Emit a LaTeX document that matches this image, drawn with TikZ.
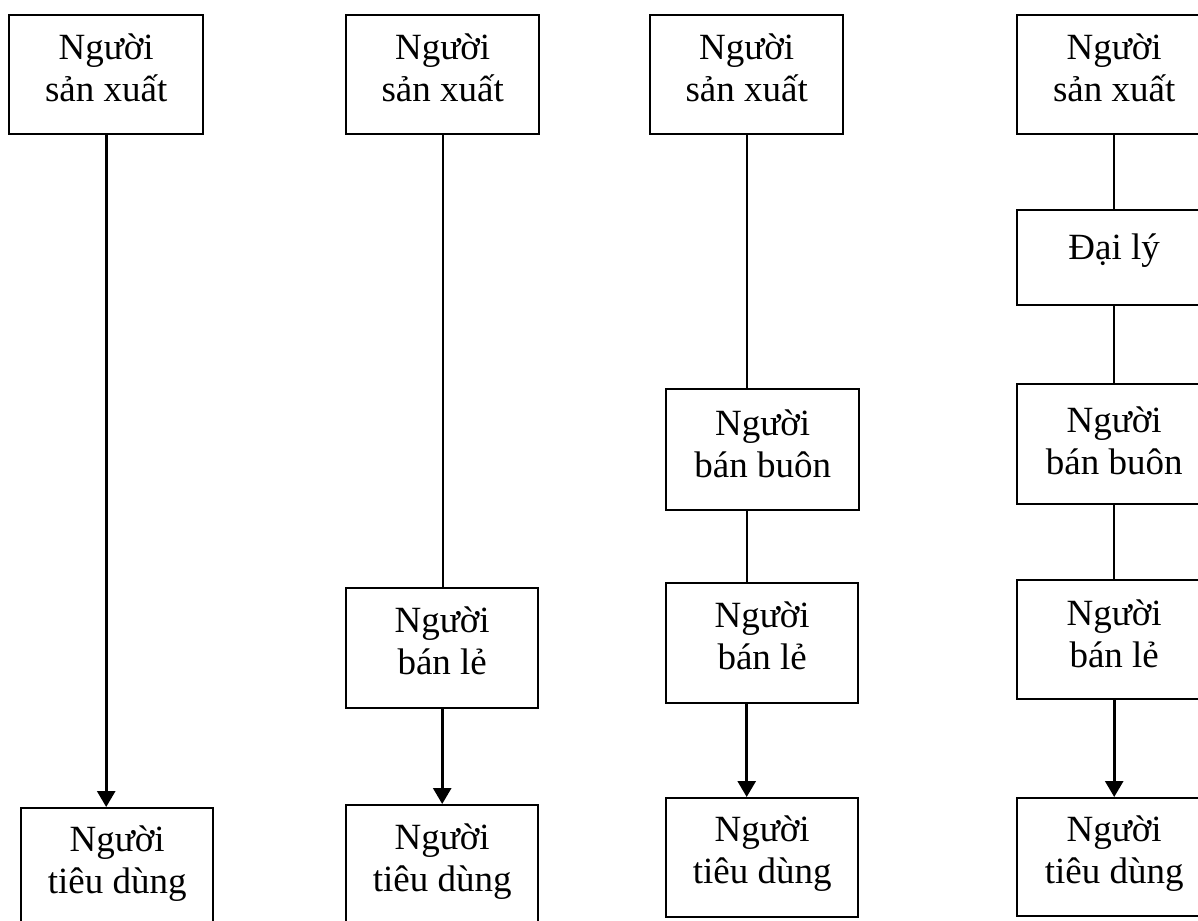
\documentclass[tikz,border=0pt]{standalone}
\usepackage{fontspec}
\setmainfont{Liberation Serif}
\usetikzlibrary{arrows.meta,calc}
\begin{document}
\begin{tikzpicture}[x=1pt,y=-1pt,
  box/.style={draw,line width=2.4pt,inner sep=0pt,anchor=north west},
  lbl/.style={anchor=base,inner sep=0pt,font=\fontsize{37}{42}\selectfont},
  plainln/.style={line width=1.8pt},
  arrln/.style={line width=2.8pt,-{Triangle[width=18pt,length=16pt]}}]
\useasboundingbox (0,0) rectangle (1198,920);
\clip (0,0) rectangle (1198,920);
\newcommand{\twoline}[2]{\begin{tabular}[t]{@{}c@{}}#1\\#2\end{tabular}}
% column 1
\node[box,minimum width=194pt,minimum height=119pt] (P1) at (8,14) {};
\node[box,minimum width=192pt,minimum height=118pt] (C1) at (20,807) {};
% column 2
\node[box,minimum width=193pt,minimum height=119pt] (P2) at (345,14) {};
\node[box,minimum width=192pt,minimum height=120pt] (R2) at (345,587) {};
\node[box,minimum width=192pt,minimum height=121pt] (C2) at (345,804) {};
% column 3
\node[box,minimum width=193pt,minimum height=119pt] (P3) at (649,14) {};
\node[box,minimum width=193pt,minimum height=121pt] (W3) at (665,388) {};
\node[box,minimum width=192pt,minimum height=120pt] (R3) at (665,582) {};
\node[box,minimum width=192pt,minimum height=119pt] (C3) at (665,797) {};
% column 4
\node[box,minimum width=194pt,minimum height=119pt] (P4) at (1016,14) {};
\node[box,minimum width=194pt,minimum height=95pt] (D4) at (1016,209) {};
\node[box,minimum width=194pt,minimum height=120pt] (W4) at (1016,383) {};
\node[box,minimum width=194pt,minimum height=119pt] (R4) at (1016,579) {};
\node[box,minimum width=194pt,minimum height=118pt] (C4) at (1016,797) {};
% labels
\node[lbl] (tP1) at ($(P1.north)+(0,46)$) {\twoline{Người}{sản xuất}};
\node[lbl] (tC1) at ($(C1.north)+(0,44)$) {\twoline{Người}{tiêu dùng}};
\node[lbl] (tP2) at ($(P2.north)+(0,46)$) {\twoline{Người}{sản xuất}};
\node[lbl] (tR2) at ($(R2.north)+(0,45)$) {\twoline{Người}{bán lẻ}};
\node[lbl] (tC2) at ($(C2.north)+(0,45)$) {\twoline{Người}{tiêu dùng}};
\node[lbl] (tP3) at ($(P3.north)+(0,46)$) {\twoline{Người}{sản xuất}};
\node[lbl] (tW3) at ($(W3.north)+(0,47)$) {\twoline{Người}{bán buôn}};
\node[lbl] (tR3) at ($(R3.north)+(0,45)$) {\twoline{Người}{bán lẻ}};
\node[lbl] (tC3) at ($(C3.north)+(0,44)$) {\twoline{Người}{tiêu dùng}};
\node[lbl] (tP4) at ($(P4.north)+(0,46)$) {\twoline{Người}{sản xuất}};
\node[lbl] (tD4) at ($(D4.north)+(0,50)$) {Đại lý};
\node[lbl] (tW4) at ($(W4.north)+(0,49)$) {\twoline{Người}{bán buôn}};
\node[lbl] (tR4) at ($(R4.north)+(0,46)$) {\twoline{Người}{bán lẻ}};
\node[lbl] (tC4) at ($(C4.north)+(0,44)$) {\twoline{Người}{tiêu dùng}};
% connectors
\draw[arrln] (P1.south) -- (P1.south |- C1.north);
\draw[plainln] (P2.south) -- (P2.south |- R2.north);
\draw[arrln] (R2.south) -- (R2.south |- C2.north);
\draw[plainln] (P3.south) -- (P3.south |- W3.north);
\draw[plainln] (P3.south |- W3.south) -- (P3.south |- R3.north);
\draw[arrln] (P3.south |- R3.south) -- (P3.south |- C3.north);
\draw[plainln] (P4.south) -- (D4.north);
\draw[plainln] (D4.south) -- (W4.north);
\draw[plainln] (W4.south) -- (R4.north);
\draw[arrln] (R4.south) -- (C4.north);
\end{tikzpicture}
\end{document}
